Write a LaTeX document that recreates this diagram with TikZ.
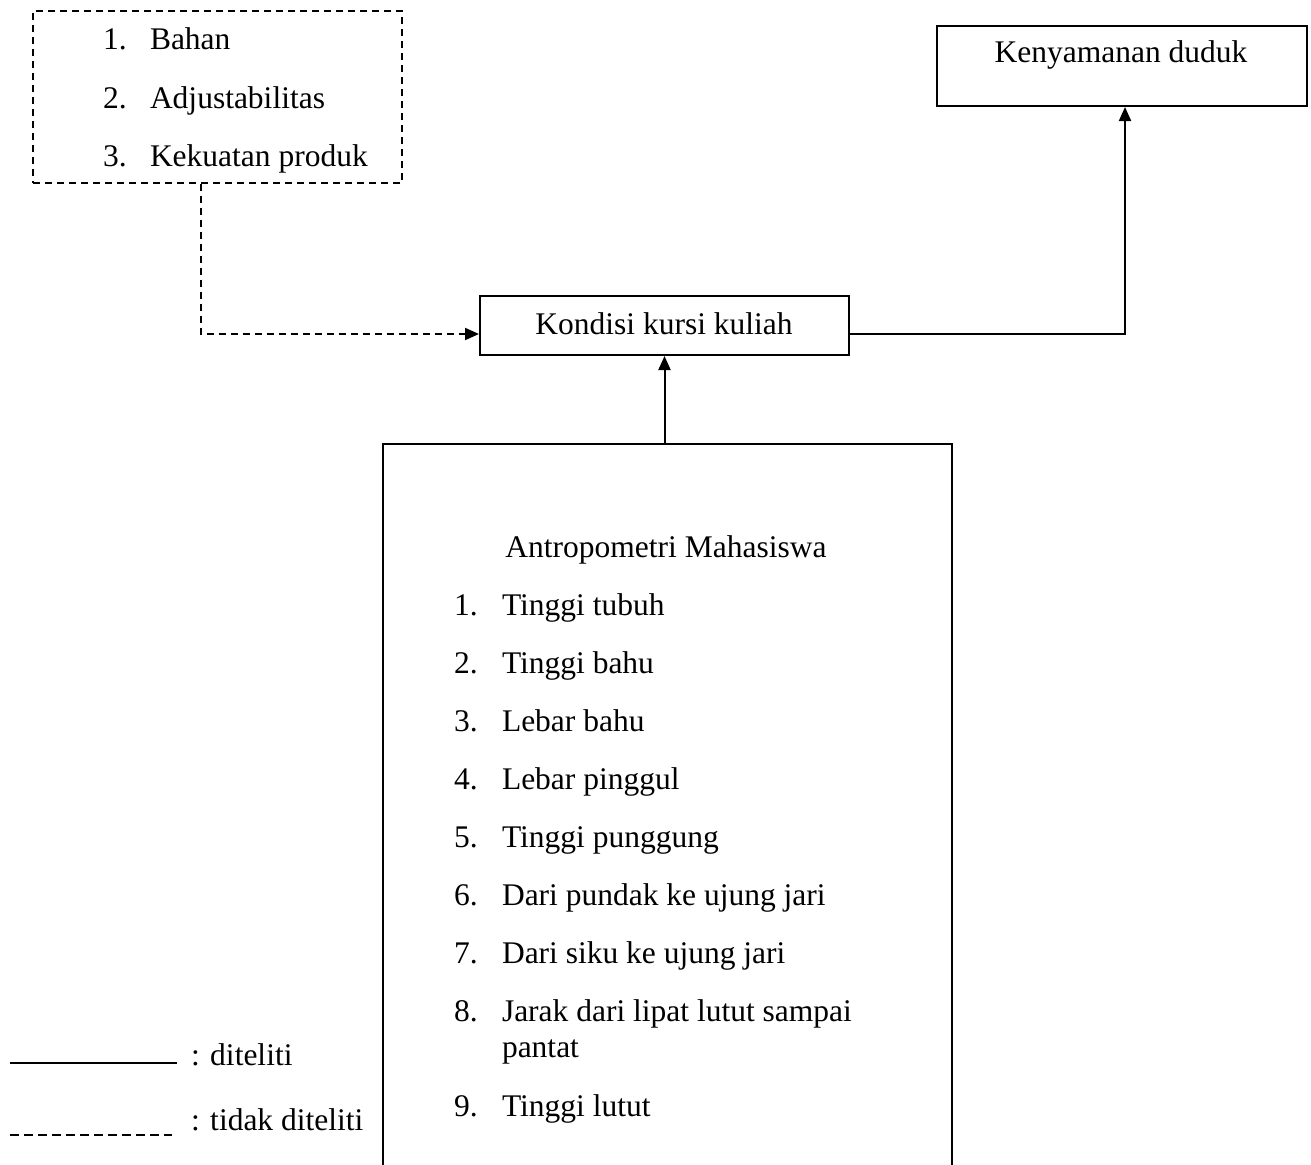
\documentclass[tikz,border=0pt]{standalone}
\usepackage{fontspec}
\setmainfont{Liberation Serif}
\usetikzlibrary{arrows.meta}
\begin{document}
\begin{tikzpicture}[x=1pt,y=1pt,
  line width=2pt,
  txt/.style={inner sep=0pt, anchor=base west, font=\fontsize{31.5}{38}\selectfont},
  ctr/.style={inner sep=0pt, anchor=base, font=\fontsize{31.5}{38}\selectfont},
  boxnode/.style={draw, line width=2pt, inner sep=0pt, anchor=north west},
  dsh/.style={dash pattern=on 7pt off 5pt},
  tip/.style={-{Triangle[length=14pt,width=12pt]}}
]
\useasboundingbox[fill=white] (0,0) rectangle (1311,-1164);

% factor box (dashed)
\node[boxnode, dsh, minimum width=369pt, minimum height=172pt] (fac) at (32,-10) {};
\node[txt] (f1n) at (102,-49) {1.};
\node[txt] (f1) at (149,-49) {Bahan};
\node[txt] (f2n) at (102,-108) {2.};
\node[txt] (f2) at (149,-108) {Adjustabilitas};
\node[txt] (f3n) at (102,-166) {3.};
\node[txt] (f3) at (149,-166) {Kekuatan produk};

% Kenyamanan duduk
\node[boxnode, minimum width=370pt, minimum height=80pt] (ken) at (936,-25) {};
\node[ctr] (kent) at (1121,-63) {Kenyamanan duduk};

% Kondisi kursi kuliah
\node[boxnode, minimum width=369pt, minimum height=59pt] (kon) at (479,-295) {};
\node[ctr] (kont) at (664,-334) {Kondisi kursi kuliah};

% Antropometri box (open at bottom)
\node[inner sep=0pt, minimum width=567pt, minimum height=720pt, anchor=north west] (ant) at (383,-444) {};
\draw (ant.south west) -- (ant.north west) -- (ant.north east) -- (ant.south east);
\node[ctr] (antt) at (666,-557) {Antropometri Mahasiswa};
\node[txt] (a1n) at (453,-615) {1.};
\node[txt] (a1) at (501,-615) {Tinggi tubuh};
\node[txt] (a2n) at (453,-673) {2.};
\node[txt] (a2) at (501,-673) {Tinggi bahu};
\node[txt] (a3n) at (453,-731) {3.};
\node[txt] (a3) at (501,-731) {Lebar bahu};
\node[txt] (a4n) at (453,-789) {4.};
\node[txt] (a4) at (501,-789) {Lebar pinggul};
\node[txt] (a5n) at (453,-847) {5.};
\node[txt] (a5) at (501,-847) {Tinggi punggung};
\node[txt] (a6n) at (453,-905) {6.};
\node[txt] (a6) at (501,-905) {Dari pundak ke ujung jari};
\node[txt] (a7n) at (453,-963) {7.};
\node[txt] (a7) at (501,-963) {Dari siku ke ujung jari};
\node[txt] (a8n) at (453,-1021) {8.};
\node[txt] (a8) at (501,-1021) {Jarak dari lipat lutut sampai};
\node[txt] (a8b) at (501,-1057) {pantat};
\node[txt] (a9n) at (453,-1116) {9.};
\node[txt] (a9) at (501,-1116) {Tinggi lutut};

% connectors
\draw[dsh, tip] ([xshift=-16.5pt]fac.south) |- ([yshift=-8.5pt]kon.west);
\draw[tip] ([yshift=-8.5pt]kon.east) -| ([xshift=3pt]ken.south);
\draw[tip] (kon.south |- ant.north) -- (kon.south);

% legend
\coordinate (l1a) at (10,-1063);
\coordinate (l1b) at (177,-1063);
\draw (l1a) -- (l1b);
\node[txt] (l1t) at (190,-1065) {: diteliti};
\coordinate (l2a) at (10,-1135);
\coordinate (l2b) at (172,-1135);
\draw[line width=1.5pt, dash pattern=on 9pt off 5pt] (l2a) -- (l2b);
\node[txt] (l2t) at (190,-1130) {: tidak diteliti};
\end{tikzpicture}
\end{document}
